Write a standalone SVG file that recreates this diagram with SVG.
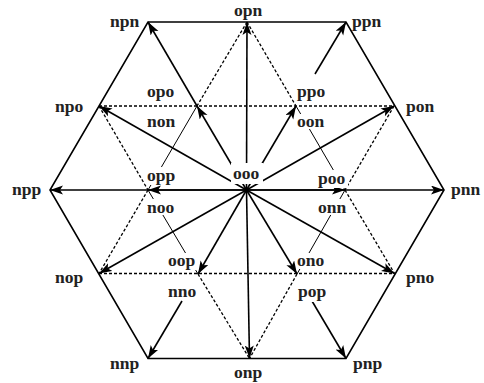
<svg xmlns="http://www.w3.org/2000/svg" width="484" height="383" viewBox="0 0 484 383">
<defs>
<marker id="ah" markerUnits="userSpaceOnUse" markerWidth="14" markerHeight="10" refX="13" refY="4.5" orient="auto">
<path d="M0,0 L13,4.5 L0,9 L3,4.5 z" fill="#000"/>
</marker>
</defs>
<style>
.s{stroke:#000;stroke-width:1.6;fill:none}
.a{stroke:#000;stroke-width:1.6;fill:none;marker-end:url(#ah)}
.d{stroke:#000;stroke-width:1.3;fill:none;stroke-dasharray:3 2}
.t{stroke:#000;stroke-width:1;fill:none}
.bg{fill:#fff}
text{font-family:"Liberation Serif","Times New Roman",serif;font-weight:bold;font-size:17.5px;fill:#222}
</style>
<rect width="484" height="383" fill="#fff"/>
<g id="connectors">
<polygon class="s" points="148,22 346,22 444,190 346,358.5 148,358.5 50,190"/>
<line class="d" x1="99" y1="106" x2="394" y2="106"/>
<line class="d" x1="99" y1="273.5" x2="394.5" y2="273.5"/>
<line class="d" x1="247" y1="22" x2="197" y2="106"/>
<line class="d" x1="148" y1="190" x2="99" y2="273.5"/>
<line class="d" x1="99" y1="106" x2="148" y2="190"/>
<line class="d" x1="198" y1="274" x2="249.5" y2="358.5"/>
<line class="d" x1="247" y1="22" x2="296" y2="106"/>
<line class="d" x1="345" y1="190" x2="394.5" y2="273.5"/>
<line class="d" x1="394" y1="106" x2="345" y2="190"/>
<line class="d" x1="297" y1="274" x2="249.5" y2="358.5"/>
<line class="t" x1="197" y1="106" x2="148" y2="190"/>
<line class="t" x1="296" y1="106" x2="345" y2="190"/>
<line class="t" x1="148" y1="190" x2="198" y2="274"/>
<line class="t" x1="345" y1="190" x2="297" y2="274"/>
<line class="a" x1="246.5" y1="190" x2="99" y2="106"/>
<line class="a" x1="246.5" y1="190" x2="247" y2="22"/>
<line class="a" x1="246.5" y1="190" x2="394" y2="106"/>
<line class="a" x1="246.5" y1="190" x2="444" y2="190"/>
<line class="a" x1="246.5" y1="190" x2="345" y2="190"/>
<line class="a" x1="246.5" y1="190" x2="394.5" y2="273.5"/>
<line class="a" x1="246.5" y1="190" x2="249.5" y2="358.5"/>
<line class="a" x1="246.5" y1="190" x2="99" y2="273.5"/>
<line class="a" x1="246.5" y1="190" x2="50" y2="190"/>
<line class="a" x1="246.5" y1="190" x2="148" y2="190"/>
<line class="a" x1="246.5" y1="190" x2="197" y2="106"/>
<line class="a" x1="246.5" y1="190" x2="296" y2="106"/>
<line class="a" x1="246.5" y1="190" x2="297" y2="274"/>
<line class="a" x1="246.5" y1="190" x2="198" y2="274"/>
<line class="a" x1="197" y1="106" x2="148" y2="22"/>
<line class="a" x1="315" y1="74" x2="346" y2="22"/>
<line class="a" x1="312" y1="301" x2="346" y2="358.5"/>
<line class="a" x1="182" y1="301" x2="148" y2="358.5"/>
</g>
<g id="npn"><text x="110" y="27">npn</text></g>
<g id="opn"><text x="234" y="16">opn</text></g>
<g id="ppn"><text x="352" y="27">ppn</text></g>
<g id="opo"><rect class="bg" x="146" y="84" width="31" height="17"/><text x="147" y="97">opo</text></g>
<g id="ppo"><rect class="bg" x="296" y="84" width="31" height="18"/><text x="297" y="97">ppo</text></g>
<g id="npo"><text x="55" y="112">npo</text></g>
<g id="non"><rect class="bg" x="146" y="114" width="31" height="15"/><text x="147" y="127">non</text></g>
<g id="oon"><rect class="bg" x="296" y="114" width="31" height="15"/><text x="297" y="127">oon</text></g>
<g id="pon"><text x="406" y="112">pon</text></g>
<g id="npp"><text x="12" y="195">npp</text></g>
<g id="opp"><rect class="bg" x="146" y="167" width="31" height="18"/><text x="147" y="181">opp</text></g>
<g id="ooo"><rect class="bg" x="231" y="163" width="32" height="21"/><text x="233" y="179">ooo</text></g>
<g id="poo"><rect class="bg" x="317" y="170" width="31" height="18"/><text x="318" y="184">poo</text></g>
<g id="pnn"><text x="451" y="195">pnn</text></g>
<g id="noo"><rect class="bg" x="146" y="199" width="31" height="16"/><text x="147" y="213">noo</text></g>
<g id="onn"><rect class="bg" x="317" y="199" width="31" height="16"/><text x="318" y="213">onn</text></g>
<g id="oop"><rect class="bg" x="167" y="253" width="30" height="17"/><text x="168" y="266">oop</text></g>
<g id="ono"><rect class="bg" x="296" y="253" width="31" height="16"/><text x="297" y="266">ono</text></g>
<g id="nop"><text x="55" y="283">nop</text></g>
<g id="pno"><text x="406" y="283">pno</text></g>
<g id="nno"><rect class="bg" x="167" y="284" width="31" height="16"/><text x="168" y="297">nno</text></g>
<g id="pop"><rect class="bg" x="297" y="284" width="31" height="18"/><text x="298" y="297">pop</text></g>
<g id="nnp"><text x="110" y="369">nnp</text></g>
<g id="onp"><text x="234" y="378">onp</text></g>
<g id="pnp"><text x="353" y="369">pnp</text></g>
</svg>
